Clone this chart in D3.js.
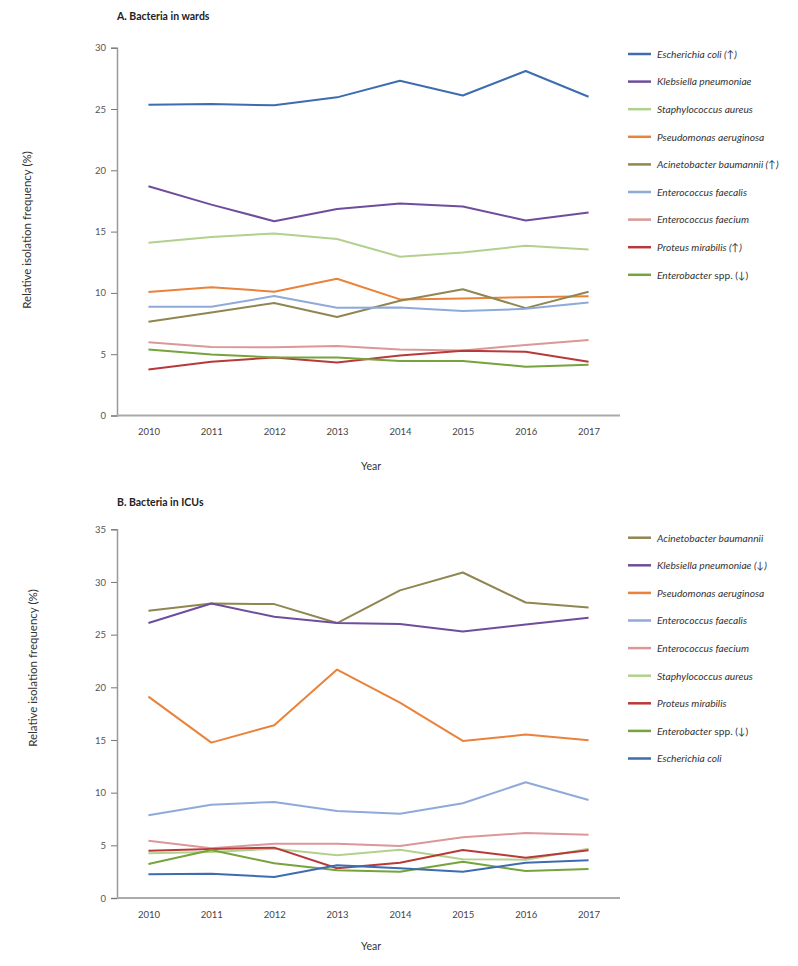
<!DOCTYPE html>
<html>
<head>
<meta charset="utf-8">
<script src="https://cdn.jsdelivr.net/npm/d3@7/dist/d3.min.js"></script>
<style>
  body { margin: 0; background: #fff; }
  svg { display: block; font-family: Lato, "Open Sans", sans-serif; }
</style>
</head>
<body>
<svg id="chart" width="798" height="966"></svg>
<script>
// ---- Data ----
const years = ["2010","2011","2012","2013","2014","2015","2016","2017"];

// Panel A: Bacteria in wards
const wardSeries = ["Escherichia coli","Klebsiella pneumoniae","Staphylococcus aureus","Pseudomonas aeruginosa","Acinetobacter baumannii","Enterococcus faecalis","Enterococcus faecium","Proteus mirabilis","Enterobacter"];
const wardSuffix = [" (↑)","","","",  " (↑)","","", " (↑)", " spp. (↓)"];
const wardEcoli        = [25.35, 25.4, 25.3, 25.95, 27.3, 26.1, 28.1, 26.0];
const wardKlebsiella   = [18.7, 17.2, 15.85, 16.85, 17.3, 17.05, 15.9, 16.55];
const wardStaph        = [14.1, 14.55, 14.85, 14.4, 12.95, 13.3, 13.85, 13.55];
const wardPseudomonas  = [10.07, 10.47, 10.1, 11.15, 9.47, 9.55, 9.65, 9.72];
const wardAcinetobacter= [7.65, 8.4, 9.17, 8.03, 9.36, 10.3, 8.76, 10.1];
const wardFaecalis     = [8.87, 8.87, 9.74, 8.78, 8.8, 8.52, 8.7, 9.22];
const wardFaecium      = [5.97, 5.58, 5.56, 5.66, 5.39, 5.31, 5.75, 6.15];
const wardProteus      = [3.76, 4.38, 4.74, 4.33, 4.9, 5.28, 5.2, 4.38];
const wardEnterobacter = [5.39, 4.98, 4.74, 4.74, 4.44, 4.44, 3.98, 4.14];
const wardValues = [wardEcoli, wardKlebsiella, wardStaph, wardPseudomonas, wardAcinetobacter, wardFaecalis, wardFaecium, wardProteus, wardEnterobacter];
const wardTicks = [0, 5, 10, 15, 20, 25, 30];

// Panel B: Bacteria in ICUs
const icuSeries = ["Acinetobacter baumannii","Klebsiella pneumoniae","Pseudomonas aeruginosa","Enterococcus faecalis","Enterococcus faecium","Staphylococcus aureus","Proteus mirabilis","Enterobacter","Escherichia coli"];
const icuSuffix = ["", " (↓)", "", "", "", "", "", " spp. (↓)", ""];
const icuAcinetobacter = [27.26, 27.95, 27.9, 26.1, 29.2, 30.9, 28.05, 27.57];
const icuKlebsiella    = [26.1, 27.95, 26.69, 26.1, 26.0, 25.29, 25.96, 26.6];
const icuPseudomonas   = [19.12, 14.75, 16.4, 21.68, 18.55, 14.91, 15.51, 14.97];
const icuFaecalis      = [7.85, 8.86, 9.12, 8.26, 8.0, 8.99, 10.99, 9.31];
const icuFaecium       = [5.44, 4.72, 5.16, 5.16, 4.94, 5.76, 6.17, 6.01];
const icuStaph         = [4.24, 4.37, 4.68, 4.05, 4.59, 3.67, 3.64, 4.68];
const icuProteus       = [4.49, 4.65, 4.78, 2.82, 3.35, 4.56, 3.83, 4.53];
const icuEnterobacter  = [3.23, 4.56, 3.29, 2.63, 2.5, 3.45, 2.56, 2.75];
const icuEcoli         = [2.25, 2.31, 1.99, 3.1, 2.82, 2.5, 3.35, 3.58];
const icuValues = [icuAcinetobacter, icuKlebsiella, icuPseudomonas, icuFaecalis, icuFaecium, icuStaph, icuProteus, icuEnterobacter, icuEcoli];
const icuTicks = [0, 5, 10, 15, 20, 25, 30, 35];

// ---- Styling ----
const colorOf = {
  "Escherichia coli": "#3d6db0",
  "Klebsiella pneumoniae": "#6e4e9c",
  "Staphylococcus aureus": "#b3d08e",
  "Pseudomonas aeruginosa": "#e9823a",
  "Acinetobacter baumannii": "#908652",
  "Enterococcus faecalis": "#8eaad9",
  "Enterococcus faecium": "#da9898",
  "Proteus mirabilis": "#b8393a",
  "Enterobacter": "#77a33c"
};

const svg = d3.select("#chart");

function panel(cfg) {
  const g = svg.append("g");
  const x = d3.scalePoint().domain(years).range([cfg.left, cfg.right]).padding(0.5);
  const y = d3.scaleLinear().domain([0, cfg.max]).range([cfg.bottom, cfg.top]);

  // title
  g.append("text").attr("x", cfg.left).attr("y", cfg.titleY)
    .attr("font-size", 10.5).attr("font-weight", "bold").attr("fill", "#222")
    .text(cfg.title);

  // y axis
  const ya = g.append("g").attr("transform", `translate(${cfg.left},0)`)
    .call(d3.axisLeft(y).tickValues(cfg.ticks).tickSize(6).tickPadding(5));
  ya.select(".domain").attr("stroke", "#999").attr("stroke-width", 1.5);
  ya.selectAll(".tick line").attr("stroke", "#777");
  ya.selectAll(".tick text").attr("font-size", 9.5).attr("fill", "#555").attr("font-family", "Lato, sans-serif");

  // x axis
  const xa = g.append("g").attr("transform", `translate(0,${cfg.bottom})`)
    .call(d3.axisBottom(x).tickSize(0).tickPadding(13));
  xa.select(".domain").remove();
  xa.selectAll(".tick text").attr("font-size", 9.5).attr("fill", "#444").attr("font-family", "Lato, sans-serif");
  g.append("line").attr("x1", cfg.left).attr("x2", cfg.right)
    .attr("y1", cfg.bottom).attr("y2", cfg.bottom)
    .attr("stroke", "#aaa").attr("stroke-width", 2);

  // axis titles
  g.append("text").attr("x", cfg.yearX).attr("y", cfg.yearY)
    .attr("text-anchor", "middle").attr("font-size", 10.5).attr("fill", "#333").text("Year");
  g.append("text")
    .attr("transform", `translate(${cfg.ylabX},${cfg.ylabY}) rotate(-90)`)
    .attr("text-anchor", "middle").attr("font-size", 11.5).attr("fill", "#333")
    .text("Relative isolation frequency (%)");

  // lines
  const line = d3.line().x((d, i) => x(years[i])).y(d => y(d));
  cfg.series.forEach((name, k) => {
    g.append("path").datum(cfg.values[k])
      .attr("fill", "none").attr("stroke", colorOf[name])
      .attr("stroke-width", 2).attr("stroke-linejoin", "round")
      .attr("d", line);
  });

  // legend
  cfg.series.forEach((name, k) => {
    const ly = cfg.legTop + k * cfg.legStep;
    g.append("line").attr("x1", 628).attr("x2", 651).attr("y1", ly).attr("y2", ly)
      .attr("stroke", colorOf[name]).attr("stroke-width", 2.5);
    const t = g.append("text").attr("x", 657).attr("y", ly + 3.8)
      .attr("font-size", 10.2).attr("fill", "#333");
    if (name === "Enterobacter") {
      t.append("tspan").attr("font-style", "italic").text(name);
      t.append("tspan").text(cfg.suffix[k]);
    } else {
      t.append("tspan").attr("font-style", "italic").text(name + cfg.suffix[k]);
    }
  });
}

panel({
  title: "A. Bacteria in wards", titleY: 20,
  left: 117, right: 620, top: 47.7, bottom: 415.5, max: 30, ticks: wardTicks,
  series: wardSeries, values: wardValues, suffix: wardSuffix,
  yearX: 371, yearY: 470, ylabX: 31, ylabY: 230,
  legTop: 54, legStep: 27.6
});

panel({
  title: "B. Bacteria in ICUs", titleY: 506,
  left: 117, right: 620, top: 529.3, bottom: 898, max: 35, ticks: icuTicks,
  series: icuSeries, values: icuValues, suffix: icuSuffix,
  yearX: 371, yearY: 950, ylabX: 37, ylabY: 668,
  legTop: 537.7, legStep: 27.6
});
</script>
</body>
</html>
